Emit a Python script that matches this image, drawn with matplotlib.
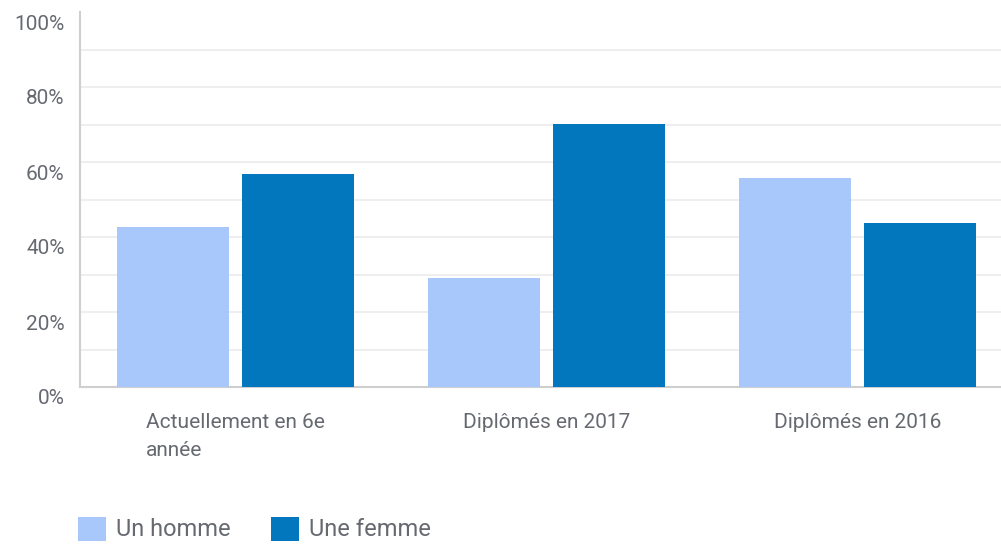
import matplotlib
matplotlib.use("Agg")
import matplotlib.pyplot as plt
import matplotlib.transforms as mtransforms
from matplotlib.patches import Patch
import numpy as np

# data
categories = ["Actuellement en 6e\nannée", "Diplômés en 2017", "Diplômés en 2016"]
homme = [42.7, 29.1, 55.7]
femme = [56.7, 70.2, 43.8]
series_names = ["Un homme", "Une femme"]
yticks = [0, 20, 40, 60, 80, 100]

col_homme = "#a8c7fa"
col_femme = "#0277bd"
txt = "#666a70"

plt.rcParams["font.family"] = ["Roboto", "DejaVu Sans"]

fig = plt.figure(figsize=(10.01, 5.45), dpi=100)
ax = fig.add_axes([80 / 1001, 1 - 387 / 545, 1 - 80 / 1001, 375 / 545])

x = np.arange(len(categories))
w = 0.36
ax.bar(x - 0.2, homme, w, color=col_homme, zorder=3)
ax.bar(x + 0.2, femme, w, color=col_femme, zorder=3)

ax.set_xlim(-0.5, 2.461)
ax.set_ylim(0, 100)

ax.set_yticks(yticks)
ax.set_yticklabels([f"{v}%" for v in yticks])
ax.set_yticks(np.arange(10, 100, 20), minor=True)
ax.grid(axis="y", which="both", color="#ebebeb", linewidth=1.2, zorder=0)
ax.get_ygridlines()[-1].set_visible(False)
ax.get_ygridlines()[0].set_visible(False)

ax.set_xticks(x)
ax.set_xticklabels(categories, multialignment="left", linespacing=1.55)
ax.tick_params(axis="x", length=0, pad=19, labelsize=15, labelcolor=txt)
ax.tick_params(axis="y", which="both", length=0, pad=11, labelsize=15, labelcolor=txt)

# shift y labels slightly below their gridlines like the original
off = mtransforms.ScaledTranslation(0, -0.10, fig.dpi_scale_trans)
for lab in ax.get_yticklabels():
    lab.set_transform(lab.get_transform() + off)

for s in ["top", "right"]:
    ax.spines[s].set_visible(False)
ax.spines["left"].set_color("#cfcfcf")
ax.spines["bottom"].set_color("#cfcfcf")
ax.spines["left"].set_linewidth(1.5)
ax.spines["bottom"].set_linewidth(1.5)

handles = [Patch(facecolor=col_homme, label=series_names[0]),
           Patch(facecolor=col_femme, label=series_names[1])]
leg = fig.legend(handles=handles, loc="center left", bbox_to_anchor=(78 / 1001, 1 - 529 / 545),
                 ncol=2, frameon=False, fontsize=17, handlelength=1.19, handleheight=1.19,
                 handletextpad=0.42, columnspacing=1.7, borderpad=0, borderaxespad=0)
for t in leg.get_texts():
    t.set_color(txt)

fig.savefig("out.png", dpi=100)
